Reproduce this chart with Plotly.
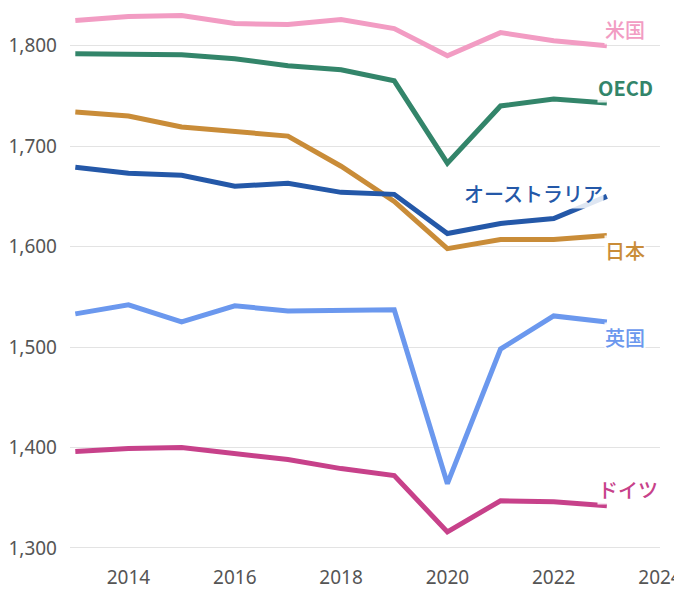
import plotly.graph_objects as go

years = list(range(2013, 2024))

series_names = ["米国", "OECD", "日本", "オーストラリア", "英国", "ドイツ"]
us = [1825, 1829, 1830, 1822, 1821, 1826, 1817, 1790, 1813, 1805, 1800]
oecd = [1792, 1792, 1791, 1787, 1780, 1776, 1765, 1683, 1740, 1747, 1743]
japan = [1734, 1730, 1719, 1715, 1710, 1680, 1645, 1598, 1607, 1607, 1611]
australia = [1679, 1673, 1671, 1660, 1663, 1654, 1652, 1613, 1623, 1628, 1650]
uk = [1533, 1542, 1525, 1541, 1536, 1536, 1537, 1364, 1498, 1531, 1525]
germany = [1396, 1399, 1400, 1394, 1388, 1379, 1372, 1316, 1347, 1346, 1342]

values = [us, oecd, japan, australia, uk, germany]
colors = ["#F29CC3", "#33856A", "#C98C38", "#2458A8", "#6B98EE", "#C7418A"]

# label placement (style only): xanchor, xshift, yshift, bold
label_style = [
    ("left", -3, 16, False),
    ("left", -10, 15, True),
    ("left", -3, -15, False),
    ("right", -3, 3, False),
    ("left", -3, -16, False),
    ("left", -10, 16, False),
]

tick_vals_y = [1300, 1400, 1500, 1600, 1700, 1800]
tick_text_y = ["1,300", "1,400", "1,500", "1,600", "1,700", "1,800"]
tick_vals_x = [2014, 2016, 2018, 2020, 2022, 2024]

fig = go.Figure()
for name, vals, col in zip(series_names, values, colors):
    fig.add_trace(go.Scatter(
        x=years, y=vals, mode="lines", name=name,
        line=dict(color=col, width=5), hoverinfo="skip", cliponaxis=False))

for name, vals, col, (xa, xs, ys, bold) in zip(series_names, values, colors, label_style):
    fig.add_annotation(
        x=years[-1], y=vals[-1], text=("<b>%s</b>" % name) if bold else name,
        showarrow=False, xanchor=xa, yanchor="middle", xshift=xs, yshift=ys,
        font=dict(family="Noto Sans CJK JP, Noto Sans", size=20, color=col,
                  weight=700 if bold else 500),
        bgcolor="rgba(255,255,255,0.85)", borderpad=0)

fig.update_layout(
    width=674, height=582,
    margin=dict(l=62, r=22, t=0, b=32, autoexpand=False),
    plot_bgcolor="white", paper_bgcolor="white",
    showlegend=False,
    font=dict(family="Noto Sans, Noto Sans CJK JP", size=19, color="#555555"),
)
fig.update_xaxes(range=[2012.9, 2024], tickvals=tick_vals_x, showgrid=False,
                 zeroline=False, showline=False, ticks="", ticklabelstandoff=6,
                 automargin=False, tickfont=dict(size=19, color="#555555"))
fig.update_yaxes(range=[1290, 1837.5], tickvals=tick_vals_y, ticktext=tick_text_y,
                 showgrid=True, gridcolor="#E3E3E3", gridwidth=1, zeroline=False,
                 showline=False, ticks="", ticklabelstandoff=12, automargin=False,
                 tickfont=dict(size=19, color="#555555"))

fig.write_html("out.html")
